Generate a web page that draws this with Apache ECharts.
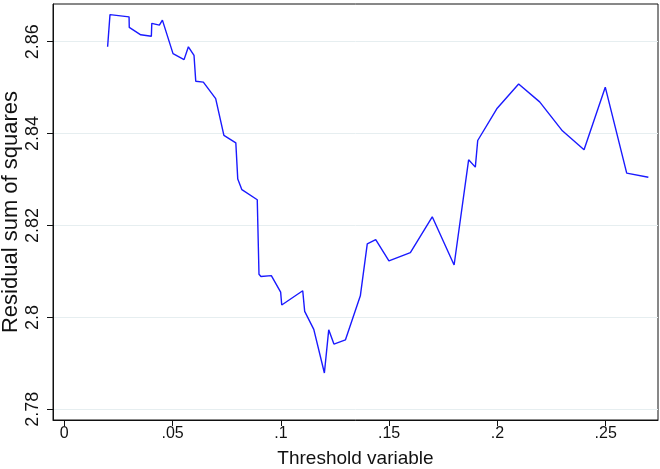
<!DOCTYPE html>
<html>
<head>
<meta charset="utf-8">
<script src="https://cdn.jsdelivr.net/npm/echarts@6/dist/echarts.min.js"></script>
<style>html,body{margin:0;padding:0;background:#fff}#c{width:660px;height:469px}</style>
</head>
<body>
<div id="c"></div>
<script>
// Threshold values (x) and residual sum of squares (y)
var thresholds = [0.0200, 0.0211, 0.0299, 0.0300, 0.0353, 0.0402, 0.0404, 0.0439, 0.0453, 0.0502,
  0.0553, 0.0573, 0.0599, 0.0607, 0.0642, 0.0699, 0.0737, 0.0792, 0.0801, 0.0820,
  0.0891, 0.0899, 0.0908, 0.0956, 0.0999, 0.1004, 0.1101, 0.1110, 0.1152, 0.1201,
  0.1221, 0.1245, 0.1298, 0.1367, 0.1399, 0.1438, 0.1499, 0.1598, 0.1699, 0.1800,
  0.1867, 0.1898, 0.1909, 0.1997, 0.2098, 0.2195, 0.2300, 0.2400, 0.2498, 0.2597, 0.2697];
var rss = [2.8589, 2.8659, 2.8654, 2.8631, 2.8615, 2.8612, 2.8640, 2.8636, 2.8647, 2.8574,
  2.8561, 2.8589, 2.8570, 2.8514, 2.8512, 2.8476, 2.8396, 2.8380, 2.8301, 2.8278,
  2.8256, 2.8094, 2.8089, 2.8091, 2.8055, 2.8027, 2.8058, 2.8013, 2.7974, 2.7879,
  2.7973, 2.7942, 2.7951, 2.8047, 2.8160, 2.8169, 2.8123, 2.8141, 2.8219, 2.8114,
  2.8343, 2.8327, 2.8385, 2.8454, 2.8508, 2.8469, 2.8406, 2.8365, 2.8501, 2.8314, 2.8305];
var xTickValues = [0, 0.05, 0.1, 0.15, 0.2, 0.25];
var xTickLabels = ['0', '.05', '.1', '.15', '.2', '.25'];
var yTickValues = [2.78, 2.8, 2.82, 2.84, 2.86];
var yTickLabels = ['2.78', '2.8', '2.82', '2.84', '2.86'];
var xTitle = 'Threshold variable';
var yTitle = 'Residual sum of squares';

function lookup(vals, labels, v) {
  for (var i = 0; i < vals.length; i++) { if (Math.abs(vals[i] - v) < 1e-9) return labels[i]; }
  return '';
}
var data = thresholds.map(function (t, i) { return [t, rss[i]]; });
var font = "'Liberation Sans', Arial, sans-serif";
var chart = echarts.init(document.getElementById('c'), null, { renderer: 'canvas' });
chart.setOption({
  animation: false,
  backgroundColor: '#fff',
  grid: { left: 53, right: 2, top: 4, bottom: 49, show: true, borderColor: '#111', borderWidth: 1,
    containLabel: false, outerBoundsMode: 'none' },
  xAxis: {
    type: 'value', min: -0.00522, max: 0.27415,
    name: xTitle, nameLocation: 'middle', nameGap: 29, nameMoveOverlap: false,
    nameTextStyle: { fontFamily: font, fontSize: 19, color: '#111' },
    axisLine: { show: true, onZero: false, lineStyle: { color: '#111', width: 1 } },
    axisTick: { show: true, length: 6, lineStyle: { color: '#111' }, customValues: xTickValues },
    axisLabel: { customValues: xTickValues, margin: 6, fontFamily: font, fontSize: 16, color: '#111',
      formatter: function (v) { return lookup(xTickValues, xTickLabels, v); } },
    splitLine: { show: false }
  },
  yAxis: {
    type: 'value', min: 2.777671, max: 2.868205,
    name: yTitle, nameLocation: 'middle', nameGap: 31, nameRotate: 90, nameMoveOverlap: false,
    nameTextStyle: { fontFamily: font, fontSize: 22, color: '#111' },
    axisLine: { show: true, onZero: false, lineStyle: { color: '#111', width: 1 } },
    axisTick: { show: true, length: 6, lineStyle: { color: '#111' }, customValues: yTickValues },
    axisLabel: { customValues: yTickValues, rotate: 90, margin: 11, fontFamily: font, fontSize: 18, color: '#111',
      formatter: function (v) { return lookup(yTickValues, yTickLabels, v); } },
    splitLine: { show: true, lineStyle: { color: '#e6eef0', width: 1 } }
  },
  series: [{
    type: 'line', data: data, showSymbol: false, symbol: 'none',
    lineStyle: { color: '#1a1aff', width: 1.4 }, clip: true
  }]
});
</script>
</body>
</html>
